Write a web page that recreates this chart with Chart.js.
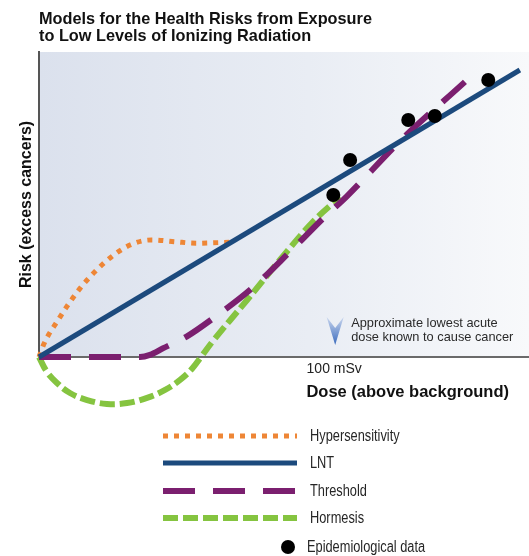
<!DOCTYPE html>
<html>
<head>
<meta charset="utf-8">
<script src="https://cdn.jsdelivr.net/npm/chart.js@4/dist/chart.umd.min.js"></script>
<style>
  body { margin: 0; background: #fff; }
  #wrap { width: 529px; height: 556px; }
</style>
</head>
<body>
<div id="wrap"><canvas id="riskChart" width="529" height="556"></canvas></div>
<script>
// dose in mSv (x), risk in arbitrary units 0-100 (y)
var seriesLabels = ["Hypersensitivity", "LNT", "Threshold", "Hormesis", "Epidemiological data"];

var hyperDose = [0, 1.5, 3.2, 5.4, 9.4, 13.9, 19.0, 24.6, 30.8, 38.2, 46.1, 53.4, 60.7, 64.7];
var hyperRisk = [0, 3.9, 7.2, 10.5, 16.5, 22.5, 28.0, 32.9, 36.7, 38.4, 37.8, 37.3, 37.5, 37.6];

var lntDose = [0, 162.9];
var lntRisk = [0, 94.1];

var thresholdDose = [0, 34.2, 37.6, 42.1, 50.0, 59.0, 72.1, 84.5, 96.3, 104.2, 122.3, 144.3];
var thresholdRisk = [0, 0, 0.7, 2.9, 6.7, 12.7, 22.5, 34.0, 45.5, 52.6, 70.8, 90.2];

var hormesisDose = [0, 2.7, 6.1, 10.5, 16.3, 23.0, 29.8, 36.6, 42.7, 47.8, 51.8, 54.9, 58.9, 70.5, 81.6, 92.8, 102.0];
var hormesisRisk = [0, -4.9, -8.5, -11.8, -14.1, -15.4, -15.1, -13.4, -10.8, -7.5, -3.9, 0, 5.2, 18.7, 31.8, 44.3, 52.5];

var epiDose = [99.7, 105.4, 125.1, 134.1, 152.2];
var epiRisk = [53.1, 64.6, 77.7, 79.0, 90.8];

var tickValues = [100];
var tickLabels = ["100 mSv"];

var noteLines = ["Approximate lowest acute", "dose known to cause cancer"];
var titleLines = ["Models for the Health Risks from Exposure", "to Low Levels of Ionizing Radiation"];

function pts(xs, ys) {
  return xs.map(function (x, i) { return { x: x, y: ys[i] }; });
}

function lineSet(label, xs, ys, color, width, dash, order) {
  return {
    label: label,
    data: pts(xs, ys),
    borderColor: color,
    backgroundColor: color,
    borderWidth: width,
    borderDash: dash,
    borderCapStyle: 'butt',
    cubicInterpolationMode: 'monotone',
    pointRadius: 0,
    fill: false,
    clip: false,
    order: order
  };
}

var bgPlugin = {
  id: 'bg',
  beforeDraw: function (chart) {
    var a = chart.chartArea, ctx = chart.ctx;
    var g = ctx.createLinearGradient(a.left, 0, a.right, 0);
    g.addColorStop(0, '#dbe1ed');
    g.addColorStop(0.55, '#e9edf4');
    g.addColorStop(1, '#f8f9fb');
    ctx.save();
    ctx.fillStyle = g;
    ctx.fillRect(a.left, a.top, a.right - a.left, a.bottom - a.top);
    ctx.restore();
  }
};

// condensed look for legend labels (no narrow font installed)
function narrowText(ctx, text, x, y, sx) {
  ctx.save();
  ctx.translate(x, y);
  ctx.scale(sx, 1);
  ctx.fillText(text, 0, 0);
  ctx.restore();
}

var extrasPlugin = {
  id: 'extras',
  afterDraw: function (chart) {
    var ctx = chart.ctx;
    var xs = chart.scales.x;
    var a = chart.chartArea;
    ctx.save();

    // title
    ctx.fillStyle = '#111';
    ctx.font = 'bold 16.3px "Liberation Sans", Arial, sans-serif';
    ctx.textAlign = 'left';
    ctx.textBaseline = 'alphabetic';
    ctx.fillText(titleLines[0], 39, 23.5);
    ctx.fillText(titleLines[1], 39, 41);

    // x axis title
    ctx.font = 'bold 16.5px "Liberation Sans", Arial, sans-serif';
    ctx.textAlign = 'right';
    ctx.fillText('Dose (above background)', 509, 397);

    // arrow + note at 100 mSv
    var ax = xs.getPixelForValue(tickValues[0]) + 1;
    var top = a.bottom - 40, tip = a.bottom - 12;
    var g = ctx.createLinearGradient(0, top, 0, tip);
    g.addColorStop(0, '#c9d6ee');
    g.addColorStop(1, '#3a6bbd');
    ctx.fillStyle = g;
    ctx.beginPath();
    ctx.moveTo(ax - 8.5, top);
    ctx.lineTo(ax, top + 11);
    ctx.lineTo(ax + 8.5, top);
    ctx.lineTo(ax, tip);
    ctx.closePath();
    ctx.fill();

    ctx.fillStyle = '#2a2a2a';
    ctx.font = '12.8px "Liberation Sans", Arial, sans-serif';
    ctx.textAlign = 'left';
    ctx.fillText(noteLines[0], ax + 16, 327);
    ctx.fillText(noteLines[1], ax + 16, 341);

    // legend
    var rows = [0, 1, 2, 3];
    var rowY = [436, 463, 491, 518];
    ctx.font = '16px "Liberation Sans", Arial, sans-serif';
    ctx.textBaseline = 'middle';
    rows.forEach(function (di, r) {
      var ds = chart.data.datasets[di];
      ctx.strokeStyle = ds.borderColor;
      ctx.lineWidth = ds.borderWidth;
      ctx.setLineDash(ds.borderDash || []);
      ctx.lineCap = 'butt';
      ctx.beginPath();
      ctx.moveTo(163, rowY[r]);
      ctx.lineTo(297, rowY[r]);
      ctx.stroke();
      ctx.setLineDash([]);
      ctx.fillStyle = '#262626';
      narrowText(ctx, ds.label, 310, rowY[r] + 1, 0.8);
    });
    var epi = chart.data.datasets[4];
    ctx.fillStyle = epi.backgroundColor;
    ctx.beginPath();
    ctx.arc(288, 547, 7, 0, Math.PI * 2);
    ctx.fill();
    ctx.fillStyle = '#262626';
    narrowText(ctx, epi.label, 307, 548, 0.8);

    ctx.restore();
  }
};

var hormesisSet = lineSet(seriesLabels[3], hormesisDose, hormesisRisk, '#85c440', 6, [15, 5], 4);
hormesisSet.cubicInterpolationMode = 'default';
hormesisSet.tension = 0.4;

var ctx = document.getElementById('riskChart').getContext('2d');
var riskChart = new Chart(ctx, {
  type: 'line',
  data: {
    datasets: [
      lineSet(seriesLabels[0], hyperDose, hyperRisk, '#ee8636', 5, [5, 6], 3),
      lineSet(seriesLabels[1], lntDose, lntRisk, '#1c4a7d', 5, [], 1),
      lineSet(seriesLabels[2], thresholdDose, thresholdRisk, '#7b1f6f', 6, [32, 18], 2),
      hormesisSet,
      {
        label: seriesLabels[4],
        data: pts(epiDose, epiRisk),
        showLine: false,
        pointRadius: 7,
        pointBackgroundColor: '#000',
        backgroundColor: '#000',
        pointBorderWidth: 0,
        clip: false,
        order: 0
      }
    ]
  },
  options: {
    responsive: false,
    animation: false,
    layout: { autoPadding: false, padding: { top: 52, left: 0, right: 0, bottom: 0 } },
    plugins: {
      legend: { display: false },
      tooltip: { enabled: false }
    },
    scales: {
      x: {
        type: 'linear',
        min: 0,
        max: 166,
        afterBuildTicks: function (s) {
          s.ticks = tickValues.map(function (v) { return { value: v }; });
        },
        afterFit: function (s) {
          s.height = 199;
          s.paddingLeft = 0;
          s.paddingRight = 0;
        },
        ticks: {
          autoSkip: false,
          maxRotation: 0,
          padding: 4,
          color: '#222',
          font: { family: '"Liberation Sans", Arial, sans-serif', size: 14 },
          callback: function (v) { return tickLabels[tickValues.indexOf(v)]; }
        },
        grid: { display: false, drawTicks: false },
        border: { display: true, color: '#6a6a6a', width: 2 }
      },
      y: {
        min: 0,
        max: 100,
        afterFit: function (s) {
          s.width = 39;
          s.paddingTop = 0;
          s.paddingBottom = 0;
        },
        ticks: { display: false },
        grid: { display: false, drawTicks: false },
        border: { display: true, color: '#555', width: 2 },
        title: {
          display: true,
          text: 'Risk (excess cancers)',
          color: '#111',
          font: { family: '"Liberation Sans", Arial, sans-serif', size: 16, weight: 'bold' },
          padding: { top: 17, bottom: 0 }
        }
      }
    }
  },
  plugins: [bgPlugin, extrasPlugin]
});
</script>
</body>
</html>
